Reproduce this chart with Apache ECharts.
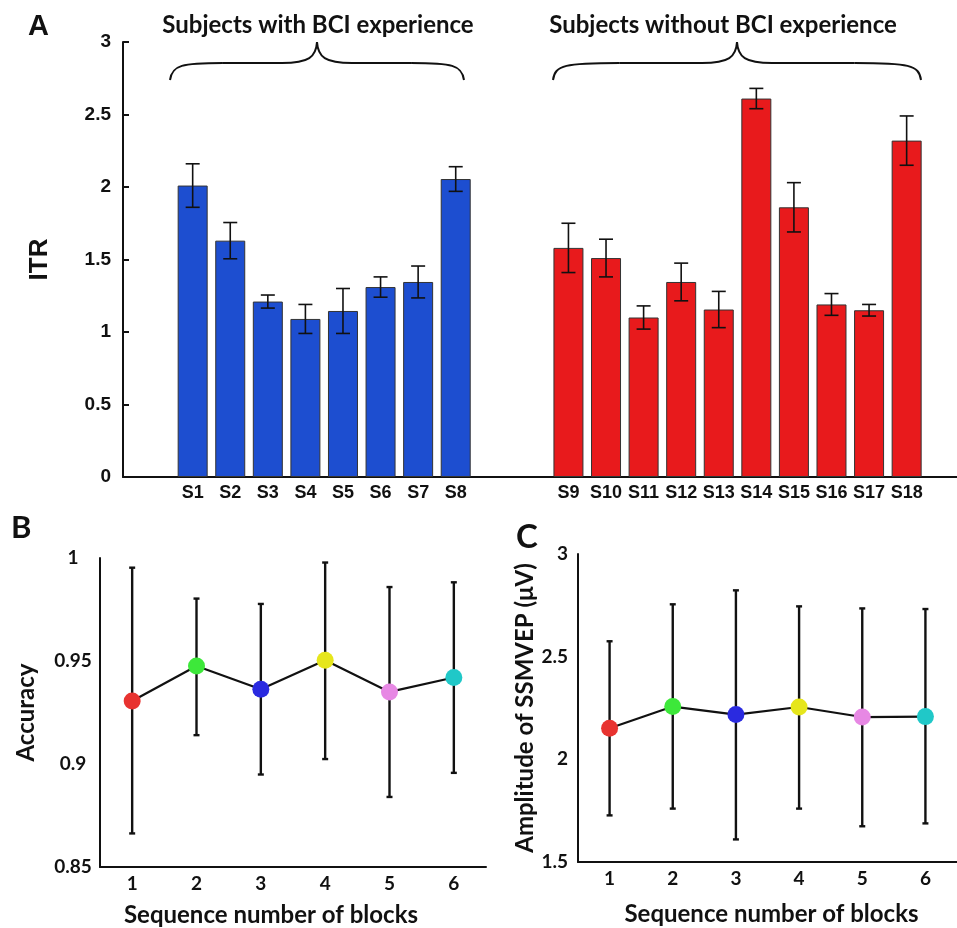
<!DOCTYPE html>
<html>
<head>
<meta charset="utf-8">
<title>ITR / Accuracy / SSMVEP</title>
<script src="https://cdn.jsdelivr.net/npm/echarts@6/dist/echarts.min.js"></script>
<style>
  html, body { margin: 0; padding: 0; background: #fff; }
  #main { width: 957px; height: 928px; }
</style>
</head>
<body>
<div id="main"></div>
<script>
// ---- panel A : ITR per subject ----
var expNames = ['S1', 'S2', 'S3', 'S4', 'S5', 'S6', 'S7', 'S8'];
var expItr = [2.01, 1.63, 1.21, 1.09, 1.145, 1.31, 1.345, 2.055];
var expErr = [0.15, 0.125, 0.045, 0.10, 0.155, 0.07, 0.11, 0.085];
var newNames = ['S9', 'S10', 'S11', 'S12', 'S13', 'S14', 'S15', 'S16', 'S17', 'S18'];
var newItr = [1.58, 1.51, 1.10, 1.345, 1.155, 2.61, 1.86, 1.19, 1.15, 2.32];
var newErr = [0.17, 0.13, 0.08, 0.13, 0.125, 0.07, 0.17, 0.075, 0.04, 0.17];

// ---- panels B and C : per block ----
var blocks = ['1', '2', '3', '4', '5', '6'];
var accMean = [0.9306, 0.9476, 0.9363, 0.9504, 0.935, 0.942];
var accLow = [0.8663, 0.914, 0.8949, 0.9024, 0.884, 0.8957];
var accHigh = [0.9953, 0.9803, 0.9777, 0.9978, 0.9859, 0.9882];
var ampMean = [2.151, 2.257, 2.218, 2.255, 2.206, 2.208];
var ampLow = [1.727, 1.76, 1.61, 1.76, 1.674, 1.688];
var ampHigh = [2.575, 2.755, 2.823, 2.745, 2.735, 2.732];
var blockColors = ['#e83330', '#3de83a', '#2a2ae0', '#e6e61c', '#e788e4', '#20c8c8'];

var chart = echarts.init(document.getElementById('main'));

var ARIAL = '"Liberation Sans", Arial, sans-serif';
var CALI = 'Lato, "Open Sans", sans-serif';

// bar positions: two groups with a gap of two slots
var barData = [], errA = [];
expNames.forEach(function (n, i) {
  barData.push({ name: n, value: [i + 1, expItr[i]], itemStyle: { color: '#1d4ed0' } });
  errA.push([i + 1, expItr[i] - expErr[i], expItr[i] + expErr[i]]);
});
newNames.forEach(function (n, i) {
  barData.push({ name: n, value: [i + 11, newItr[i]], itemStyle: { color: '#e81a1c' } });
  errA.push([i + 11, newItr[i] - newErr[i], newItr[i] + newErr[i]]);
});

function errBars(capW, lw) {
  return function (params, api) {
    var x = api.value(0);
    var lo = api.coord([x, api.value(1)]);
    var hi = api.coord([x, api.value(2)]);
    var st = { stroke: '#111', lineWidth: lw };
    return {
      type: 'group',
      children: [
        { type: 'line', shape: { x1: lo[0], y1: lo[1], x2: hi[0], y2: hi[1] }, style: st },
        { type: 'line', shape: { x1: lo[0] - capW, y1: lo[1], x2: lo[0] + capW, y2: lo[1] }, style: st },
        { type: 'line', shape: { x1: hi[0] - capW, y1: hi[1], x2: hi[0] + capW, y2: hi[1] }, style: st }
      ]
    };
  };
}

function blockErr(lo, hi) {
  return blocks.map(function (b, i) { return [i, lo[i], hi[i]]; });
}
function blockPts(mean) {
  return mean.map(function (v, i) { return { value: v, itemStyle: { color: blockColors[i] } }; });
}

// curly brace made of bezier pieces
function brace(x0, x1, yEnd, yMid, yPeak) {
  var xm = (x0 + x1) / 2;
  var w = x1 - x0;
  var st = { stroke: '#111', lineWidth: 2, fill: null };
  function bz(a, b, c, d) {
    return { type: 'bezierCurve', shape: { x1: a[0], y1: a[1], cpx1: b[0], cpy1: b[1], cpx2: c[0], cpy2: c[1], x2: d[0], y2: d[1] }, style: st };
  }
  var q1 = x0 + w * 0.18, q2 = x1 - w * 0.18;
  return [
    bz([x0, yEnd], [x0 + 2, yMid + 2], [x0 + 12, yMid], [q1, yMid]),
    { type: 'line', shape: { x1: q1, y1: yMid, x2: xm - 35, y2: yMid }, style: st },
    bz([xm - 35, yMid], [xm - 8, yMid], [xm - 1, yMid - 6], [xm, yPeak]),
    bz([xm, yPeak], [xm + 1, yMid - 6], [xm + 8, yMid], [xm + 35, yMid]),
    { type: 'line', shape: { x1: xm + 35, y1: yMid, x2: q2, y2: yMid }, style: st },
    bz([q2, yMid], [x1 - 12, yMid], [x1 - 2, yMid + 2], [x1, yEnd])
  ];
}

var axisLine = { show: true, onZero: false, lineStyle: { color: '#111', width: 2 } };

var option = {
  backgroundColor: '#fff',
  animation: false,
  grid: [
    { left: 123, top: 42, width: 834, height: 435 },
    { left: 100, top: 558, width: 386, height: 309 },
    { left: 578, top: 554, width: 386, height: 308 }
  ],
  xAxis: [
    {
      type: 'value', gridIndex: 0, min: -0.854, max: 21.34,
      axisLine: axisLine, axisTick: { show: false }, axisLabel: { show: false }, splitLine: { show: false }
    },
    {
      type: 'category', gridIndex: 1, data: blocks, boundaryGap: true,
      axisLine: axisLine,
      axisTick: { inside: true, alignWithLabel: true, length: 5, lineStyle: { color: '#111', width: 2 } },
      axisLabel: { color: '#111', fontFamily: CALI, fontWeight: 'bold', fontSize: 19, margin: 7 },
      name: 'Sequence number of blocks', nameLocation: 'middle', nameGap: 36,
      nameTextStyle: { color: '#111', fontFamily: CALI, fontWeight: 'bold', fontSize: 24, padding: [0, 44, 0, 0] }
    },
    {
      type: 'category', gridIndex: 2, data: blocks, boundaryGap: true,
      axisLine: axisLine,
      axisTick: { inside: true, alignWithLabel: true, length: 5, lineStyle: { color: '#111', width: 2 } },
      axisLabel: { color: '#111', fontFamily: CALI, fontWeight: 'bold', fontSize: 19, margin: 7 },
      name: 'Sequence number of blocks', nameLocation: 'middle', nameGap: 40,
      nameTextStyle: { color: '#111', fontFamily: CALI, fontWeight: 'bold', fontSize: 24, padding: [0, 0, 0, 8] }
    }
  ],
  yAxis: [
    {
      type: 'value', gridIndex: 0, min: 0, max: 3, interval: 0.5,
      axisLine: axisLine,
      axisTick: { inside: true, length: 6, lineStyle: { color: '#111', width: 2 } },
      axisLabel: { color: '#111', fontFamily: ARIAL, fontWeight: 'bold', fontSize: 19, margin: 12 },
      splitLine: { show: false },
      name: 'ITR', nameLocation: 'middle', nameGap: 70, nameRotate: 90,
      nameTextStyle: { color: '#111', fontFamily: ARIAL, fontWeight: 'bold', fontSize: 26 }
    },
    {
      type: 'value', gridIndex: 1, min: 0.85, max: 1, interval: 0.05,
      axisLine: axisLine,
      axisTick: { inside: true, length: 5, lineStyle: { color: '#111', width: 2 } },
      axisLabel: { color: '#111', fontFamily: CALI, fontWeight: 'bold', fontSize: 19, margin: 27, align: 'center' },
      splitLine: { show: false },
      name: 'Accuracy', nameLocation: 'middle', nameGap: 62, nameRotate: 90,
      nameTextStyle: { color: '#111', fontFamily: CALI, fontWeight: 'bold', fontSize: 24 }
    },
    {
      type: 'value', gridIndex: 2, min: 1.5, max: 3, interval: 0.5,
      axisLine: axisLine,
      axisTick: { inside: true, length: 5, lineStyle: { color: '#111', width: 2 } },
      axisLabel: { color: '#111', fontFamily: CALI, fontWeight: 'bold', fontSize: 19, margin: 10 },
      splitLine: { show: false },
      name: 'Amplitude of SSMVEP (μV)', nameLocation: 'middle', nameGap: 30, nameRotate: 90,
      nameTextStyle: { color: '#111', fontFamily: CALI, fontWeight: 'bold', fontSize: 24 }
    }
  ],
  graphic: [
    { type: 'text', left: 28, top: 12, style: { text: 'A', font: 'bold 29px ' + ARIAL, fill: '#111' } },
    { type: 'text', left: 11, top: 512, style: { text: 'B', font: 'bold 31px ' + CALI, fill: '#111' } },
    { type: 'text', left: 516, top: 521, style: { text: 'C', font: 'bold 33px ' + CALI, fill: '#111' } },
    { type: 'text', x: 318, y: 25, style: { text: 'Subjects with BCI experience', font: 'bold 24px ' + CALI, fill: '#111', align: 'center', verticalAlign: 'middle' } },
    { type: 'text', x: 723, y: 25, style: { text: 'Subjects without BCI experience', font: 'bold 24px ' + CALI, fill: '#111', align: 'center', verticalAlign: 'middle' } }
  ].concat(brace(170, 464, 80, 63, 42), brace(553, 921, 80, 63, 42)),
  series: [
    {
      type: 'bar', xAxisIndex: 0, yAxisIndex: 0, barWidth: 30,
      data: barData,
      itemStyle: { borderColor: '#333', borderWidth: 1 },
      label: {
        show: true, position: 'bottom', distance: 7,
        formatter: function (p) { return p.name; },
        color: '#111', fontFamily: ARIAL, fontWeight: 'bold', fontSize: 18
      }
    },
    {
      type: 'custom', xAxisIndex: 0, yAxisIndex: 0, z: 3,
      renderItem: errBars(7, 1.6), data: errA
    },
    {
      type: 'custom', xAxisIndex: 1, yAxisIndex: 1, z: 2,
      renderItem: errBars(3, 2.4), data: blockErr(accLow, accHigh)
    },
    {
      type: 'line', xAxisIndex: 1, yAxisIndex: 1, z: 4,
      symbol: 'circle', symbolSize: 17,
      lineStyle: { color: '#111', width: 2.2 },
      data: blockPts(accMean)
    },
    {
      type: 'custom', xAxisIndex: 2, yAxisIndex: 2, z: 2,
      renderItem: errBars(3, 2.4), data: blockErr(ampLow, ampHigh)
    },
    {
      type: 'line', xAxisIndex: 2, yAxisIndex: 2, z: 4,
      symbol: 'circle', symbolSize: 17,
      lineStyle: { color: '#111', width: 2.2 },
      data: blockPts(ampMean)
    }
  ]
};

chart.setOption(option);
</script>
</body>
</html>
